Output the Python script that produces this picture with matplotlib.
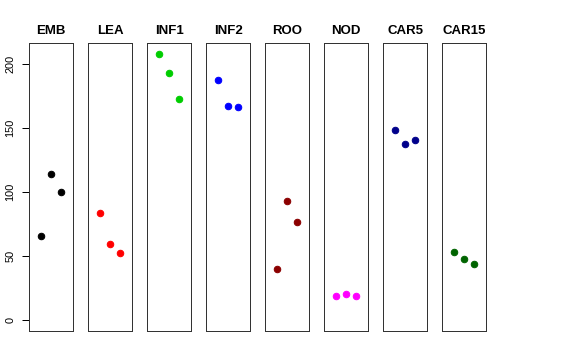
import matplotlib
matplotlib.use("Agg")
import matplotlib.pyplot as plt

# panel names, colours and the three values in each panel
stages = ["EMB", "LEA", "INF1", "INF2", "ROO", "NOD", "CAR5", "CAR15"]
colours = ["black", "red", "#00CD00", "blue", "#8B0000", "magenta", "#00008B", "#006400"]
emb = [66, 114, 100]
lea = [84, 60, 52.5]
inf1 = [208, 193, 173]
inf2 = [188, 167.5, 166.5]
roo = [40, 93.5, 77]
nod = [19.3, 20.8, 18.7]
car5 = [148.5, 137.5, 140.5]
car15 = [53, 48, 44]
values = [emb, lea, inf1, inf2, roo, nod, car5, car15]
reps = [1, 2, 3]

plt.rcParams['font.family'] = ['Liberation Sans', 'DejaVu Sans']

fig = plt.figure(figsize=(8, 5), dpi=72)
W, H = 576, 360

# R-style 4% extension of the ranges
ymin, ymax = 0, max(max(v) for v in values)
ypad = (ymax - ymin) * 0.04
xmin, xmax = 0, 4
xpad = (xmax - xmin) * 0.04

left0, pitch, width = 28.7, 59.0, 44.7
top, bottom = 43.3, 331.0

for i, (name, col, vals) in enumerate(zip(stages, colours, values)):
    ax = fig.add_axes([(left0 + pitch * i) / W, (H - bottom) / H,
                       width / W, (bottom - top) / H])
    ax.plot(reps, vals, 'o', color=col, markersize=6.5, linestyle='none')
    ax.set_xlim(xmin - xpad, xmax + xpad)
    ax.set_ylim(ymin - ypad, ymax + ypad)
    ax.set_xticks([])
    ax.set_title(name, fontsize=13.2, fontweight='bold', pad=9)
    for s in ax.spines.values():
        s.set_linewidth(1)
        s.set_color('#333333')
    if i == 0:
        ax.set_yticks([0, 50, 100, 150, 200])
        ax.tick_params(axis='y', length=7.5, width=1, labelsize=11, pad=6)
        for lab in ax.get_yticklabels():
            lab.set_rotation(90)
            lab.set_va('center')
    else:
        ax.set_yticks([])

fig.savefig("out.png", dpi=72)
